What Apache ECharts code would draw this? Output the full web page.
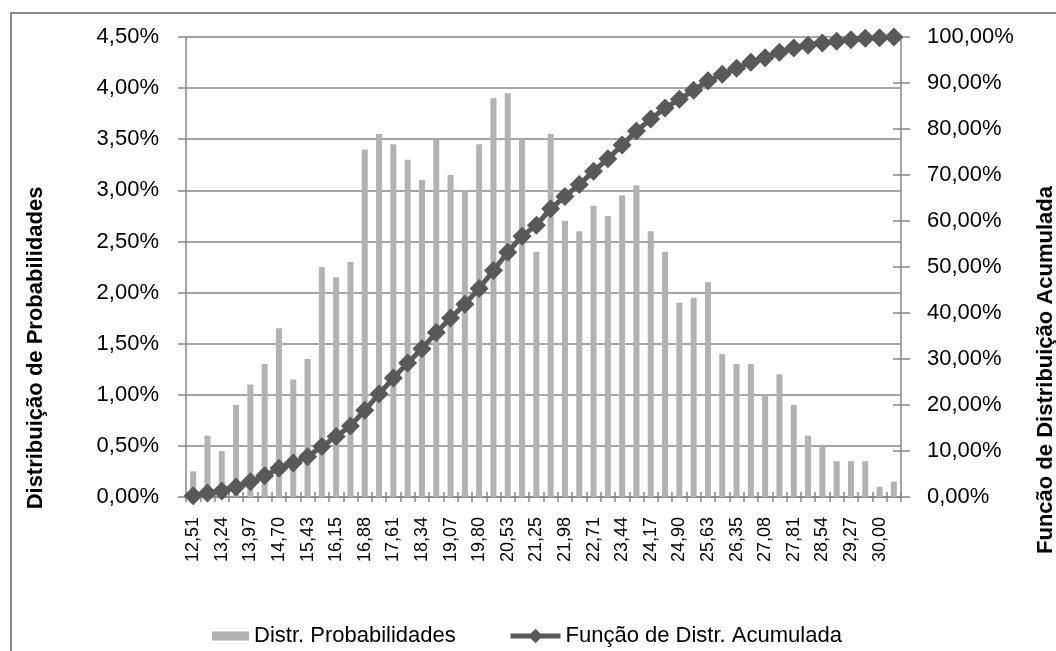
<!DOCTYPE html>
<html>
<head>
<meta charset="utf-8">
<script src="https://cdn.jsdelivr.net/npm/echarts@6/dist/echarts.min.js"></script>
<style>
  html, body { margin: 0; padding: 0; background: #fff; }
  #container { width: 1056px; height: 651px; }
</style>
</head>
<body>
<div id="container"></div>
<script>
const dom = document.getElementById('container')
const myChart = echarts.init(dom)

// class midpoints (only every second one is labelled on the axis)
const classes = [
    '12,51', '12,87', '13,24', '13,60', '13,97', '14,33', '14,70', '15,06', '15,43', '15,79',
    '16,15', '16,52', '16,88', '17,25', '17,61', '17,97', '18,34', '18,70', '19,07', '19,43',
    '19,80', '20,16', '20,53', '20,89', '21,25', '21,62', '21,98', '22,35', '22,71', '23,08',
    '23,44', '23,81', '24,17', '24,54', '24,90', '25,26', '25,63', '25,99', '26,35', '26,72',
    '27,08', '27,45', '27,81', '28,18', '28,54', '28,91', '29,27', '29,63', '30,00', '30,36'
]

// probability per class, in %
const probabilidades = [
    0.25, 0.60, 0.45, 0.90, 1.10, 1.30, 1.65, 1.15, 1.35, 2.25,
    2.15, 2.30, 3.40, 3.55, 3.45, 3.30, 3.10, 3.50, 3.15, 3.00,
    3.45, 3.90, 3.95, 3.50, 2.40, 3.55, 2.70, 2.60, 2.85, 2.75,
    2.95, 3.05, 2.60, 2.40, 1.90, 1.95, 2.10, 1.40, 1.30, 1.30,
    1.00, 1.20, 0.90, 0.60, 0.50, 0.35, 0.35, 0.35, 0.10, 0.15
]

// cumulative distribution, in %
const acumulada = [
    0.25, 0.85, 1.30, 2.20, 3.30, 4.60, 6.25, 7.40, 8.75, 11.00,
    13.15, 15.45, 18.85, 22.40, 25.85, 29.15, 32.25, 35.75, 38.90, 41.90,
    45.35, 49.25, 53.20, 56.70, 59.10, 62.65, 65.35, 67.95, 70.80, 73.55,
    76.50, 79.55, 82.15, 84.55, 86.45, 88.40, 90.50, 91.90, 93.20, 94.50,
    95.50, 96.70, 97.60, 98.20, 98.70, 99.05, 99.40, 99.75, 99.85, 100.00
]

const FONT = 'Liberation Sans'
const GRID_COLOR = '#878787'

const pct = (v) => v.toFixed(2).replace('.', ',') + '%'

const option = {
    backgroundColor: '#ffffff',
    animation: false,
    textStyle: { fontFamily: FONT },
    grid: {
        left: 186,
        right: 155,
        top: 37,
        bottom: 154,
        containLabel: false,
        outerBoundsMode: 'none'
    },
    legend: [
        {
            data: [{ name: 'Distr. Probabilidades', icon: 'rect' }],
            left: 207,
            top: 620,
            itemWidth: 37,
            itemHeight: 9,
            itemGap: 5,
            textStyle: { fontFamily: FONT, fontSize: 22, color: '#000' }
        },
        {
            data: ['Função de Distr. Acumulada'],
            left: 503,
            top: 620,
            itemWidth: 50,
            itemHeight: 18,
            lineStyle: { width: 5 },
            textStyle: { fontFamily: FONT, fontSize: 22, color: '#000' }
        }
    ],
    xAxis: [
        {
            type: 'category',
            data: classes,
            axisLine: { show: true, lineStyle: { color: GRID_COLOR, width: 1.5 } },
            axisTick: { show: true, interval: 0, length: 5, lineStyle: { color: GRID_COLOR, width: 1.5 } },
            axisLabel: {
                interval: 1,
                rotate: 90,
                margin: 20,
                color: '#000',
                fontFamily: FONT,
                fontSize: 18
            },
            splitLine: { show: false }
        },
        {
            // inner half of the crossing ticks
            type: 'category',
            data: classes,
            position: 'bottom',
            axisLine: { show: false },
            axisTick: { show: true, inside: true, interval: 0, length: 5, lineStyle: { color: GRID_COLOR, width: 1.5 } },
            axisLabel: { show: false },
            splitLine: { show: false }
        }
    ],
    yAxis: [
        {
            type: 'value',
            min: 0,
            max: 4.5,
            interval: 0.5,
            position: 'left',
            axisLine: { show: true, lineStyle: { color: GRID_COLOR, width: 1.5 } },
            axisTick: { show: true, length: 8, lineStyle: { color: GRID_COLOR, width: 1.5 } },
            axisLabel: {
                margin: 27,
                color: '#000',
                fontFamily: FONT,
                fontSize: 22,
                formatter: pct
            },
            splitLine: { show: true, lineStyle: { color: GRID_COLOR, width: 1.5 } }
        },
        {
            type: 'value',
            min: 0,
            max: 100,
            interval: 10,
            position: 'right',
            axisLine: { show: true, lineStyle: { color: GRID_COLOR, width: 1.5 } },
            axisTick: { show: true, length: 9, lineStyle: { color: GRID_COLOR, width: 1.5 } },
            axisLabel: {
                margin: 26,
                color: '#000',
                fontFamily: FONT,
                fontSize: 22,
                formatter: pct
            },
            splitLine: { show: false }
        },
        {
            // inner half of the crossing ticks on the right axis
            type: 'value',
            min: 0,
            max: 100,
            interval: 10,
            position: 'right',
            axisLine: { show: false },
            axisTick: { show: true, inside: true, length: 8, lineStyle: { color: GRID_COLOR, width: 1.5 } },
            axisLabel: { show: false },
            splitLine: { show: false }
        }
    ],
    graphic: [
        {
            type: 'rect',
            silent: true,
            shape: { x: 11, y: 13, width: 1200, height: 800 },
            style: { fill: 'none', stroke: '#8a8a8a', lineWidth: 2 }
        },
        {
            type: 'text',
            silent: true,
            x: 36,
            y: 348,
            rotation: Math.PI / 2,
            style: {
                text: 'Distribuição de Probabilidades',
                fontFamily: FONT,
                fontSize: 22,
                fontWeight: 'bold',
                fill: '#000',
                align: 'center',
                verticalAlign: 'middle'
            }
        },
        {
            type: 'text',
            silent: true,
            x: 1046,
            y: 370,
            rotation: Math.PI / 2,
            style: {
                text: 'Funcão de Distribuição Acumulada',
                fontFamily: FONT,
                fontSize: 22,
                fontWeight: 'bold',
                fill: '#000',
                align: 'center',
                verticalAlign: 'middle'
            }
        }
    ],
    series: [
        {
            name: 'Distr. Probabilidades',
            type: 'bar',
            xAxisIndex: 0,
            yAxisIndex: 0,
            barWidth: 6,
            itemStyle: { color: '#b2b2b2' },
            data: probabilidades
        },
        {
            name: 'Função de Distr. Acumulada',
            type: 'line',
            xAxisIndex: 0,
            yAxisIndex: 1,
            symbol: 'diamond',
            symbolSize: 19,
            showAllSymbol: true,
            lineStyle: { color: '#595959', width: 5 },
            itemStyle: { color: '#595959' },
            z: 3,
            data: acumulada
        }
    ]
}

myChart.setOption(option)
</script>
</body>
</html>
